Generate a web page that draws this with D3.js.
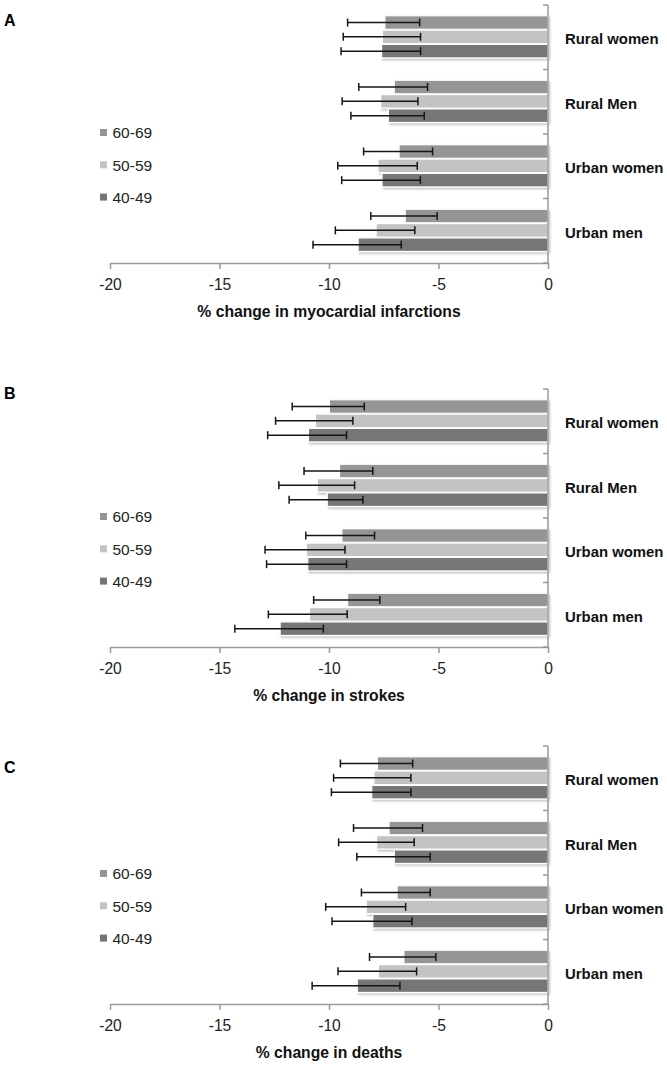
<!DOCTYPE html>
<html><head><meta charset="utf-8">
<script src="https://cdn.jsdelivr.net/npm/d3@7"></script>
<style>body{margin:0;background:#fff}svg{display:block}</style>
</head><body>
<svg id="c" width="667" height="1065"></svg>
<script>
const categories = ["Rural women", "Rural Men", "Urban women", "Urban men"];
const ageGroups = ["60-69", "50-59", "40-49"];
const xTicks = [-20, -15, -10, -5, 0];
const panelLetters = ["A", "B", "C"];
const axisTitles = ["% change in myocardial infarctions", "% change in strokes", "% change in deaths"];

// per category: [60-69, 50-59, 40-49]
const miMean = [[-7.45, -7.56, -7.6], [-7.02, -7.64, -7.29], [-6.8, -7.76, -7.58], [-6.52, -7.85, -8.67]];
const miLow  = [[-9.15, -9.35, -9.45], [-8.64, -9.4, -9.0], [-8.42, -9.6, -9.42], [-8.09, -9.71, -10.73]];
const miHigh = [[-5.86, -5.82, -5.82], [-5.5, -5.94, -5.65], [-5.27, -5.97, -5.83], [-5.06, -6.08, -6.7]];

const strokeMean = [[-9.98, -10.62, -10.94], [-9.52, -10.53, -10.08], [-9.41, -11.03, -10.97], [-9.15, -10.89, -12.23]];
const strokeLow  = [[-11.68, -12.44, -12.8], [-11.14, -12.29, -11.82], [-11.06, -12.92, -12.85], [-10.7, -12.77, -14.3]];
const strokeHigh = [[-8.39, -8.91, -9.2], [-8.0, -8.83, -8.45], [-7.92, -9.27, -9.2], [-7.68, -9.17, -10.26]];

const deathMean = [[-7.79, -7.95, -8.05], [-7.26, -7.82, -7.02], [-6.89, -8.3, -8.0], [-6.58, -7.74, -8.71]];
const deathLow  = [[-9.48, -9.79, -9.89], [-8.88, -9.56, -8.73], [-8.52, -10.15, -9.86], [-8.15, -9.59, -10.77]];
const deathHigh = [[-6.18, -6.26, -6.26], [-5.73, -6.11, -5.38], [-5.38, -6.5, -6.21], [-5.12, -6.0, -6.76]];

const panels = [
  {mean: miMean, low: miLow, high: miHigh},
  {mean: strokeMean, low: strokeLow, high: strokeHigh},
  {mean: deathMean, low: deathLow, high: deathHigh}
];
const colors = {"60-69": "#959595", "50-59": "#c3c3c3", "40-49": "#767676"};

const svg = d3.select("#c");
const font = "'Liberation Sans', Arial, sans-serif";
const panelTop = [5, 389, 746];
const letterY = [26, 399, 773];
const panelH = 258;
const x = d3.scaleLinear().domain([-20, 0]).range([110, 548]);
const axisColor = "#9a9a9a";

const defs = svg.append("defs");
const f = defs.append("filter").attr("id", "sh").attr("x", "-5%").attr("y", "-30%").attr("width", "110%").attr("height", "170%");
f.append("feDropShadow").attr("dx", 1.2).attr("dy", 1.5).attr("stdDeviation", 0.9).attr("flood-color", "#000").attr("flood-opacity", 0.28);

panels.forEach((p, pi) => {
  const top = panelTop[pi];
  const g = svg.append("g");
  const y = d3.scaleBand().domain(categories).range([top, top + panelH]);
  const bw = y.bandwidth();
  const yi = d3.scaleBand().domain(ageGroups).range([bw * 0.1667, bw * 0.8333]);

  svg.append("text").attr("x", 4).attr("y", letterY[pi]).text(panelLetters[pi])
    .attr("font-family", font).attr("font-weight", "bold").attr("font-size", 16).attr("fill", "#000");

  categories.forEach((cat, ci) => {
    ageGroups.forEach((ag, ai) => {
      const v = p.mean[ci][ai];
      const by = y(cat) + yi(ag);
      g.append("rect").attr("x", x(v)).attr("y", by)
        .attr("width", x(0) - x(v)).attr("height", yi.bandwidth() - 0.8)
        .attr("fill", colors[ag]).attr("stroke", "#fff").attr("stroke-width", 1.2)
        .attr("filter", "url(#sh)");
    });
  });
  categories.forEach((cat, ci) => {
    ageGroups.forEach((ag, ai) => {
      const cy = y(cat) + yi(ag) + (yi.bandwidth() - 0.8) / 2;
      const lo = p.low[ci][ai], hi = p.high[ci][ai];
      g.append("line").attr("x1", x(lo)).attr("x2", x(hi)).attr("y1", cy).attr("y2", cy)
        .attr("stroke", "#151515").attr("stroke-width", 1.5);
      [lo, hi].forEach(e => g.append("line").attr("x1", x(e)).attr("x2", x(e))
        .attr("y1", cy - 4).attr("y2", cy + 4).attr("stroke", "#151515").attr("stroke-width", 1.5));
    });
  });

  g.append("line").attr("x1", x(0)).attr("x2", x(0)).attr("y1", top).attr("y2", top + panelH)
    .attr("stroke", axisColor).attr("stroke-width", 1.5);
  const bounds = categories.map(c => y(c)).concat([top + panelH]);
  bounds.forEach(b => g.append("line").attr("x1", x(0) - 5).attr("x2", x(0)).attr("y1", b).attr("y2", b)
    .attr("stroke", axisColor).attr("stroke-width", 1.5));

  categories.forEach(cat => {
    g.append("text").attr("x", 565).attr("y", y(cat) + bw / 2 + 2).attr("dy", "0.35em")
      .text(cat).attr("font-family", font).attr("font-weight", "bold").attr("font-size", 14.9).attr("fill", "#111");
  });

  const ax = g.append("g").attr("transform", `translate(0,${top + panelH})`)
    .call(d3.axisBottom(x).tickValues(xTicks).tickSize(6).tickSizeOuter(0).tickPadding(10).tickFormat(d3.format("d")));
  ax.select(".domain").attr("stroke", axisColor).attr("stroke-width", 1.5);
  ax.selectAll(".tick line").attr("stroke", axisColor).attr("stroke-width", 1.5);
  ax.selectAll(".tick text").attr("font-family", font).attr("font-size", 15.6).attr("fill", "#222")
    .text(d => d === 0 ? "0" : String(d).replace("−", "-"));

  g.append("text").attr("x", (x(-20) + x(0)) / 2).attr("y", top + panelH + 49).attr("dy", "0.35em")
    .attr("text-anchor", "middle").text(axisTitles[pi])
    .attr("font-family", font).attr("font-weight", "bold").attr("font-size", 15.7).attr("fill", "#111");

  ageGroups.forEach((ag, ai) => {
    const ly = top + 128 + ai * 32.3;
    g.append("rect").attr("x", 100).attr("y", ly - 4).attr("width", 7).attr("height", 7).attr("fill", colors[ag]);
    g.append("text").attr("x", 112.5).attr("y", ly).attr("dy", "0.35em").text(ag)
      .attr("font-family", font).attr("font-size", 15.5).attr("fill", "#222");
  });
});
</script>
</body></html>
